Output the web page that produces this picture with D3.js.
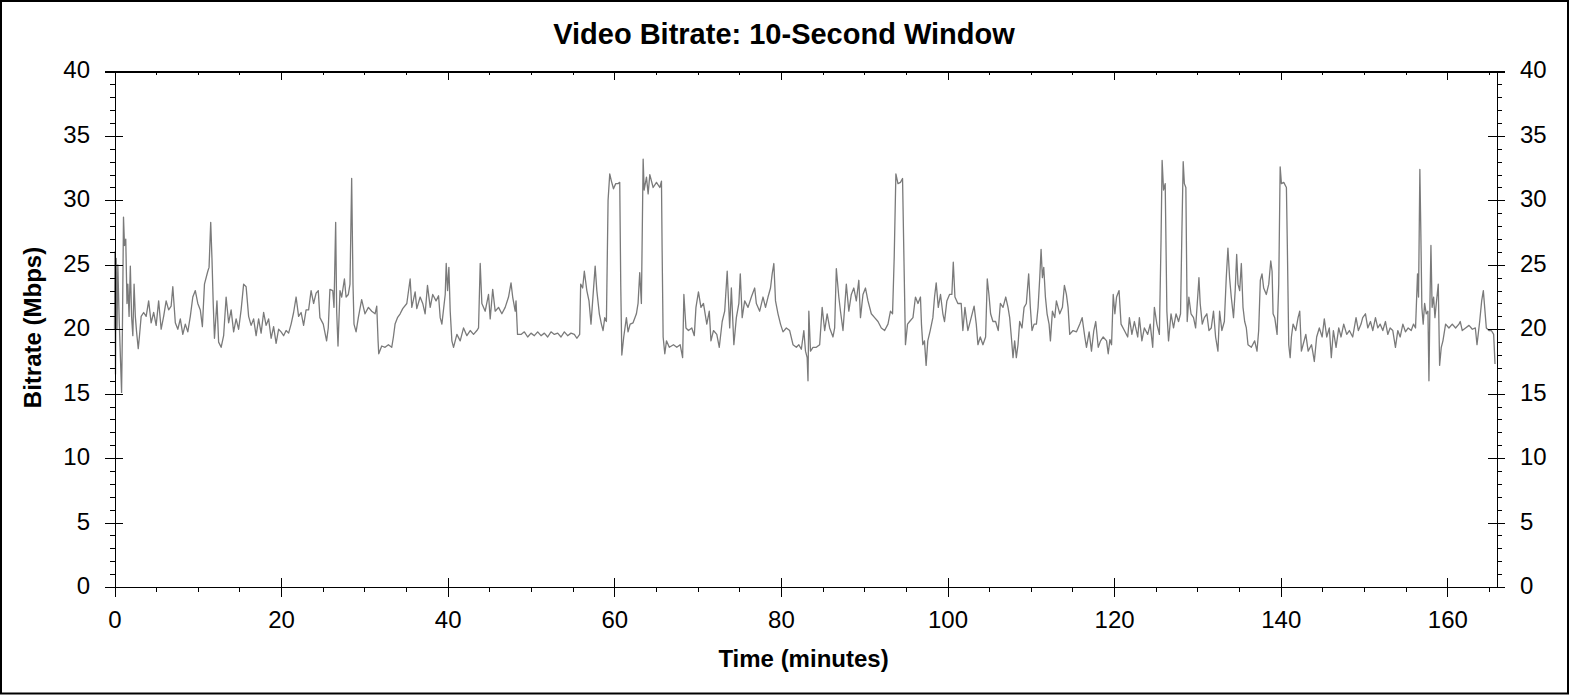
<!DOCTYPE html>
<html>
<head>
<meta charset="utf-8">
<script src="https://cdn.jsdelivr.net/npm/d3@7"></script>
<style>
  body { margin: 0; background: #fff; }
  svg { display: block; font-family: "Liberation Sans", Arial, sans-serif; }
  .axis path, .axis line { stroke: #000; stroke-width: 1; shape-rendering: crispEdges; }
  .axis text { fill: #000; font-size: 24px; }
</style>
</head>
<body>
<svg id="chart" width="1570" height="695"></svg>
<script>
// Chart texts
const chartTitle = "Video Bitrate: 10-Second Window";
const xTitle = "Time (minutes)";
const yTitle = "Bitrate (Mbps)";

// Axis ticks
const xMajorTicks = [0, 20, 40, 60, 80, 100, 120, 140, 160];
const xMinorTicks = d3.range(0, 166, 5);
const yMajorTicks = [0, 5, 10, 15, 20, 25, 30, 35, 40];
const yMinorTicks = d3.range(0, 41, 1);
const xMax = 165.9;

// Bitrate samples: [minutes, Mbps]
const bitrate = [
  [0.0,20],[0.05,26],[0.12,16.5],[0.2,25.5],[0.3,20],[0.4,25],[0.55,21],[0.7,18],[0.85,15.1],[0.95,20],
  [1.08,28.7],[1.2,26.5],[1.35,27],[1.5,22],[1.6,23.5],[1.75,21],[1.9,24.9],[2.05,21],[2.2,19.5],[2.35,23.5],
  [2.5,21],[2.65,19.8],[2.85,18.5],[3.0,19.5],[3.2,21],[3.5,21.3],[3.8,21],[4.1,22.2],[4.4,20.5],[4.7,21.3],
  [5.0,20.3],[5.3,22.2],[5.6,20],[5.9,21],[6.2,22.2],[6.5,21.5],[6.8,21.8],[7.0,23.3],[7.3,20.5],[7.6,20],
  [7.9,20.8],[8.2,19.6],[8.5,20.4],[8.8,19.8],[9.1,21],[9.4,22.5],[9.7,23],[10.0,22],[10.3,21.5],[10.55,20.2],
  [10.8,23.5],[11.2,24.5],[11.35,24.8],[11.55,28.3],[11.7,25.5],[11.85,22],[12.0,19.3],[12.3,22.2],[12.5,19],[12.8,18.6],
  [13.1,19.5],[13.4,22.5],[13.7,20.5],[14.0,21.5],[14.3,19.8],[14.6,20.8],[14.9,20],[15.2,21.5],[15.5,23.5],[15.8,23.3],
  [16.1,21],[16.4,20.3],[16.7,20.8],[17.0,19.5],[17.3,20.8],[17.6,19.7],[17.9,21.3],[18.2,20.3],[18.5,20.8],[18.8,19.3],
  [19.1,20.2],[19.4,18.9],[19.7,20.0],[20.0,19.8],[20.3,19.5],[20.6,19.9],[20.9,19.7],[21.2,20.4],[21.5,21.3],[21.8,22.5],
  [22.1,21],[22.4,21.3],[22.7,20.3],[23.0,21.5],[23.3,21.5],[23.6,23],[23.9,22],[24.2,22.8],[24.46,23],[24.66,20.9],
  [25.06,20.4],[25.46,19.1],[25.66,20.1],[25.86,23.1],[26.2,23],[26.35,21.7],[26.55,28.3],[26.67,21.4],[26.83,18.7],[27.07,23],
  [27.27,22.5],[27.6,23.9],[27.8,22.5],[28.07,22.7],[28.27,23.5],[28.47,31.7],[28.63,23.5],[28.75,20.4],[29.0,19.8],[29.27,20.9],
  [29.67,22.3],[30.07,21.2],[30.48,21.7],[30.88,21.4],[31.28,21.2],[31.48,21.8],[31.64,19.1],[31.72,18.1],[32.08,18.7],[32.48,18.6],
  [32.88,18.8],[33.28,18.6],[33.48,19.4],[33.68,20.4],[33.97,20.9],[34.29,21.2],[34.6,21.6],[35.09,22],[35.49,23.9],[35.69,21.7],
  [36.09,22.9],[36.29,21.6],[36.69,22.5],[37.0,22],[37.29,21.2],[37.57,23.4],[37.9,21.7],[38.2,22.7],[38.6,22.2],[38.9,22.6],
  [39.1,20.9],[39.3,20.4],[39.7,22.7],[39.82,25.1],[39.98,23],[40.14,24.8],[40.3,21.4],[40.5,19.1],[40.7,18.6],[41.1,19.6],
  [41.5,19.1],[41.9,20.1],[42.3,19.5],[42.7,19.9],[43.1,19.6],[43.5,19.9],[43.7,20.1],[43.9,25.1],[44.1,22],[44.5,21.4],
  [44.9,22.7],[45.1,20.8],[45.4,23.1],[45.7,21.4],[46.1,21.7],[46.5,21.2],[46.9,21.7],[47.3,22.5],[47.6,23.6],[47.8,22.5],
  [48.1,21.4],[48.2,22.2],[48.38,19.6],[48.8,19.6],[49.2,19.8],[49.6,19.4],[50.0,19.7],[50.4,19.5],[50.8,19.8],[51.2,19.5],
  [51.6,19.7],[52.0,19.4],[52.4,19.8],[52.8,19.6],[53.2,19.7],[53.6,19.4],[54.0,19.8],[54.4,19.5],[54.8,19.7],[55.2,19.6],
  [55.5,19.3],[55.84,19.6],[55.96,23.5],[56.2,23.2],[56.4,24.5],[56.7,23],[56.96,22.2],[57.2,20.4],[57.4,22.2],[57.7,24.9],
  [57.9,23],[58.2,21.2],[58.45,20.4],[58.65,19.9],[58.85,20.9],[59.05,20.6],[59.25,30],[59.45,32.05],[59.65,31.5],[59.9,30.9],
  [60.17,31.3],[60.45,31.3],[60.65,31.4],[60.77,23.5],[60.9,18],[61.13,19.4],[61.45,20.9],[61.65,19.8],[61.9,20.4],[62.25,20.5],
  [62.65,21.2],[62.85,22],[63.05,24.4],[63.25,22],[63.46,33.2],[63.58,30.8],[63.86,31.8],[64.06,30.5],[64.26,32],[64.66,31],
  [65.06,31.4],[65.46,31],[65.66,31.5],[65.74,26.1],[65.86,19.4],[66.06,18.1],[66.26,19.1],[66.6,18.6],[67.1,18.8],[67.5,18.6],
  [67.9,18.8],[68.2,17.8],[68.35,22.7],[68.6,20.1],[68.9,19.9],[69.3,20.1],[69.6,19.5],[69.8,21.7],[70.1,22.9],[70.4,21.7],
  [70.7,22],[71.1,20.4],[71.4,21.4],[71.6,19.1],[71.9,19.9],[72.3,19.6],[72.6,18.6],[72.95,20.6],[73.25,21.4],[73.55,24.5],
  [73.85,20.1],[74.05,23.2],[74.35,18.8],[74.65,20.9],[74.95,22],[75.12,24.3],[75.35,20.9],[75.65,22.2],[76.05,21.7],[76.45,22.5],
  [76.85,23.2],[77.05,22],[77.45,21.4],[77.85,22.5],[78.15,21.7],[78.45,22.5],[78.75,23.2],[78.95,24.3],[79.15,25.1],[79.35,22.2],
  [79.65,21.2],[79.95,20.4],[80.25,19.8],[80.65,20.1],[81.05,19.9],[81.45,18.8],[81.85,18.6],[82.15,18.8],[82.45,18.45],[82.75,19.9],
  [82.95,18.3],[83.15,17.8],[83.25,16],[83.35,21.4],[83.55,18.3],[83.85,18.6],[84.25,18.6],[84.65,18.8],[84.95,21.7],[85.25,19.9],
  [85.55,21.2],[85.85,20.1],[86.25,19.4],[86.45,20.1],[86.65,24.7],[86.95,22.5],[87.15,21.4],[87.45,19.9],[87.65,21.7],[87.85,23.5],
  [88.15,21.4],[88.45,22.7],[88.75,23.2],[89.05,22.2],[89.35,23.8],[89.55,20.9],[89.85,22.7],[90.15,23.2],[90.45,22.2],[90.85,21.2],
  [91.25,20.9],[91.65,20.6],[92.05,20.1],[92.45,19.9],[92.85,20.4],[93.15,21.4],[93.4,21.2],[93.6,25.6],[93.8,32.05],[94.05,31.3],
  [94.35,31.4],[94.6,31.7],[94.75,26.1],[94.95,18.8],[95.2,20.4],[95.45,20.6],[95.85,20.9],[96.15,22.5],[96.45,22],[96.75,22.5],
  [96.87,20.4],[97.03,18.8],[97.23,19.1],[97.43,17.2],[97.63,19.1],[97.92,19.9],[98.24,20.9],[98.44,22.5],[98.64,23.6],[98.89,21.7],
  [99.16,22.7],[99.44,21.2],[99.64,20.6],[99.92,22.2],[100.24,22.7],[100.52,22.7],[100.69,25.2],[100.89,22.5],[101.24,22],[101.64,22],
  [101.84,19.9],[102.09,21.7],[102.44,19.9],[102.84,20.9],[103.19,21.8],[103.45,20.4],[103.65,18.8],[103.93,19.4],[104.25,18.8],[104.57,19.4],
  [104.77,23.9],[104.97,22.7],[105.17,21.2],[105.45,20.6],[105.77,20.6],[106.09,19.9],[106.34,22],[106.66,21.7],[106.99,22.5],[107.26,21.7],
  [107.46,20.9],[107.66,19.4],[107.86,17.8],[108.06,19.1],[108.26,17.8],[108.46,18.8],[108.66,20.6],[108.94,20.1],[109.19,21.7],[109.46,22],
  [109.74,24.3],[109.94,21.7],[110.14,19.9],[110.39,20.4],[110.67,20.4],[110.87,21.7],[111.07,24],[111.23,26.2],[111.39,24],[111.55,24.8],
  [111.75,22.5],[111.95,21.2],[112.19,20.4],[112.35,19.1],[112.59,21.4],[112.87,20.9],[113.07,22.2],[113.27,21.7],[113.47,21.2],[113.79,21.7],
  [114.03,23.4],[114.27,22.7],[114.47,21.7],[114.67,19.6],[115.07,19.9],[115.48,19.8],[115.88,20.4],[116.16,20.9],[116.48,19.4],[116.68,18.6],
  [117.0,19.8],[117.28,18.3],[117.56,19.9],[117.79,20.6],[118.09,18.6],[118.37,19.1],[118.69,19.4],[119.09,19.1],[119.29,18.1],[119.49,19.2],
  [119.69,18.8],[119.89,22.7],[120.09,21.2],[120.29,22.5],[120.59,23],[120.83,20.4],[121.23,19.9],[121.63,19.4],[121.83,20.9],[122.13,19.6],
  [122.43,20.6],[122.83,19.4],[123.03,20.9],[123.33,19.1],[123.63,20.1],[124.03,19.6],[124.33,20.4],[124.63,18.6],[124.83,21.7],[125.13,20.4],
  [125.43,19.6],[125.63,26.9],[125.76,33.1],[125.93,30.8],[126.13,31.3],[126.33,21.4],[126.53,19.1],[126.83,21.2],[127.13,20.1],[127.43,21.2],
  [127.73,20.6],[127.97,21.2],[128.13,27.4],[128.29,33],[128.43,31.3],[128.61,31],[128.77,20.6],[128.97,22.5],[129.23,21.2],[129.53,20.9],
  [129.78,20.1],[130.03,22.5],[130.18,24],[130.33,22],[130.58,20.4],[130.83,20.9],[131.13,21.2],[131.38,19.9],[131.66,20.1],[131.93,21.4],
  [132.18,19.4],[132.46,18.3],[132.66,21.4],[132.93,19.9],[133.23,20.6],[133.46,24],[133.66,26.3],[133.86,24],[134.06,22.5],[134.33,20.9],
  [134.53,23],[134.71,25.8],[134.87,23.5],[135.07,23],[135.27,25.1],[135.47,21.7],[135.67,20.6],[135.87,20.1],[136.07,18.8],[136.47,18.6],
  [136.87,19.1],[137.15,18.3],[137.35,19.9],[137.55,23.8],[137.75,24.3],[137.95,23.2],[138.27,22.7],[138.56,23.5],[138.8,25.3],[138.96,24.5],
  [139.08,21.2],[139.28,20.9],[139.56,19.6],[139.76,23.5],[139.93,32.6],[140.08,31.3],[140.36,31.4],[140.68,31],[140.8,26.1],[140.96,18.8],
  [141.13,17.8],[141.28,19.4],[141.48,20.4],[141.8,19.9],[142.08,20.9],[142.28,21.4],[142.48,18.3],[142.68,18.8],[143.01,19.6],[143.29,18.3],
  [143.69,18.8],[143.83,18.3],[144.03,17.5],[144.31,19.4],[144.63,20.1],[144.97,19.4],[145.23,20.8],[145.52,19.4],[145.83,20.1],[146.07,17.8],
  [146.32,19.9],[146.64,18.6],[146.96,20.1],[147.24,19.4],[147.56,20.4],[147.92,19.6],[148.24,19.9],[148.64,19.4],[149.04,20.9],[149.32,19.9],
  [149.64,20.4],[149.84,20.9],[150.17,21.2],[150.45,20.1],[150.77,20.6],[151.05,19.9],[151.37,20.9],[151.65,20.1],[151.93,20.4],[152.25,19.9],
  [152.57,20.6],[152.85,19.6],[153.13,20.1],[153.45,19.9],[153.77,18.6],[154.05,19.9],[154.34,19.4],[154.66,20.4],[154.97,19.8],[155.3,20.1],
  [155.66,19.9],[155.94,20.4],[156.18,20.1],[156.3,22.2],[156.42,24.3],[156.54,22.5],[156.62,27.4],[156.7,32.4],[156.82,27.4],[156.94,21.7],
  [157.1,20.4],[157.27,22],[157.47,21.2],[157.67,21.4],[157.79,16],[157.91,22],[158.03,26.5],[158.17,21.7],[158.35,22.5],[158.51,20.9],
  [158.67,22],[158.91,23.5],[159.07,17.2],[159.27,18.6],[159.47,19.1],[159.79,20.4],[160.19,20.1],[160.59,20.4],[160.99,20.1],[161.39,20.4],
  [161.55,20.6],[161.79,19.9],[162.19,20.1],[162.6,20.3],[163.0,20],[163.36,20.1],[163.56,18.8],[163.88,20.6],[164.12,22.2],[164.32,23],
  [164.48,21.7],[164.68,20.1],[165.0,19.9],[165.28,19.9],[165.56,19.6],[165.72,17.3]
];

const svg = d3.select("#chart");

// Plot box
const plotLeft = 114.5, plotRight = 1496.5, plotTop = 71.5, plotBottom = 587;

const x = d3.scaleLinear().domain([0, xMax]).range([plotLeft, plotRight]);
const y = d3.scaleLinear().domain([0, 40]).range([plotBottom, plotTop]);

// Outer frame
svg.append("rect")
    .attr("x", 1).attr("y", 1)
    .attr("width", 1567).attr("height", 692.5)
    .attr("fill", "none")
    .attr("stroke", "#000")
    .attr("stroke-width", 2);

// Title
svg.append("text")
    .attr("x", 784).attr("y", 43.5)
    .attr("text-anchor", "middle")
    .style("font-size", "29px")
    .style("font-weight", "bold")
    .text(chartTitle);

// Bitrate line
const line = d3.line()
    .x(d => x(d[0]))
    .y(d => y(d[1]));

svg.append("path")
    .datum(bitrate)
    .attr("fill", "none")
    .attr("stroke", "#7a7a7a")
    .attr("stroke-width", 1.3)
    .attr("stroke-linejoin", "round")
    .attr("d", line);

// Left axis: minor ticks, then major ticks crossing the line
svg.append("g").attr("class", "axis")
    .attr("transform", `translate(${plotLeft},0)`)
    .call(d3.axisLeft(y).tickValues(yMinorTicks).tickSize(5).tickSizeOuter(0).tickFormat(""));
svg.append("g").attr("class", "axis")
    .attr("transform", `translate(${plotLeft},0)`)
    .call(d3.axisRight(y).tickValues(yMajorTicks).tickSize(8.5).tickSizeOuter(0).tickFormat(""));
svg.append("g").attr("class", "axis")
    .attr("transform", `translate(${plotLeft},0)`)
    .call(d3.axisLeft(y).tickValues(yMajorTicks).tickSize(9.5).tickPadding(15).tickSizeOuter(0))
    .call(g => g.selectAll("text").attr("dy", "0.27em"));

// Right axis
svg.append("g").attr("class", "axis")
    .attr("transform", `translate(${plotRight},0)`)
    .call(d3.axisRight(y).tickValues(yMinorTicks).tickSize(5).tickSizeOuter(0).tickFormat(""));
svg.append("g").attr("class", "axis")
    .attr("transform", `translate(${plotRight},0)`)
    .call(d3.axisLeft(y).tickValues(yMajorTicks).tickSize(8.5).tickSizeOuter(0).tickFormat(""));
svg.append("g").attr("class", "axis")
    .attr("transform", `translate(${plotRight},0)`)
    .call(d3.axisRight(y).tickValues(yMajorTicks).tickSize(8.5).tickPadding(15).tickSizeOuter(0))
    .call(g => g.selectAll("text").attr("dy", "0.27em"));

// Bottom axis
svg.append("g").attr("class", "axis")
    .attr("transform", `translate(0,${plotBottom})`)
    .call(d3.axisBottom(x).tickValues(xMinorTicks).tickSize(5).tickSizeOuter(0).tickFormat(""));
svg.append("g").attr("class", "axis")
    .attr("transform", `translate(0,${plotBottom})`)
    .call(d3.axisTop(x).tickValues(xMajorTicks).tickSize(9).tickSizeOuter(0).tickFormat(""));
svg.append("g").attr("class", "axis")
    .attr("transform", `translate(0,${plotBottom})`)
    .call(d3.axisBottom(x).tickValues(xMajorTicks).tickSize(9.5).tickPadding(14).tickSizeOuter(0));

// Top axis, ticks pointing inward
svg.append("g").attr("class", "axis")
    .attr("transform", `translate(0,${plotTop})`)
    .call(d3.axisBottom(x).tickValues(xMinorTicks).tickSize(3.5).tickSizeOuter(0).tickFormat(""));
svg.append("g").attr("class", "axis")
    .attr("transform", `translate(0,${plotTop})`)
    .call(d3.axisBottom(x).tickValues(xMajorTicks).tickSize(8.5).tickSizeOuter(0).tickFormat(""));

// Frame lines extended past the corners like the major ticks
svg.append("g").attr("class", "axis")
    .selectAll("line")
    .data([plotTop, plotBottom])
    .join("line")
    .attr("x1", plotLeft - 9.5).attr("x2", plotRight + 8.5)
    .attr("y1", d => d).attr("y2", d => d);

// Axis titles
svg.append("text")
    .attr("x", 803.5).attr("y", 667)
    .attr("text-anchor", "middle")
    .style("font-size", "24px")
    .style("font-weight", "bold")
    .text(xTitle);

svg.append("text")
    .attr("transform", "translate(41,327.5) rotate(-90)")
    .attr("text-anchor", "middle")
    .style("font-size", "24px")
    .style("font-weight", "bold")
    .text(yTitle);
</script>
</body>
</html>
